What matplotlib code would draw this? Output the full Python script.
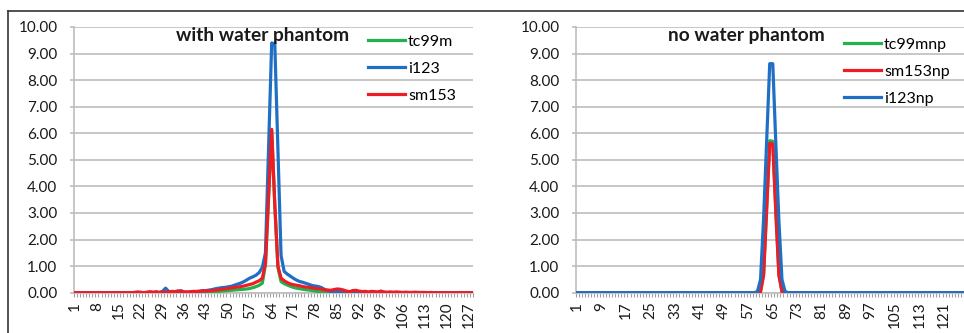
import matplotlib
matplotlib.use("Agg")
import matplotlib.pyplot as plt
from matplotlib.lines import Line2D

plt.rcParams['font.family'] = ['Lato', 'DejaVu Sans']

# categories 1..128 (detector bins)
bins = list(range(1, 129))

# with water phantom
tc99m = [
    0, 0, 0, 0, 0, 0, 0, 0, 0, 0, 0, 0, 0, 0, 0, 0,
    0, 0, 0, 0, 0, 0, 0, 0, 0, 0, 0, 0, 0, 0, 0, 0,
    0, 0.01, 0.01, 0, 0, 0.01, 0.01, 0.01, 0.01, 0.02, 0.02, 0.03, 0.03, 0.04, 0.05, 0.06,
    0.07, 0.08, 0.09, 0.10, 0.11, 0.12, 0.13, 0.14, 0.16, 0.19, 0.23, 0.28, 0.36, 1.05, 3.58, 6.10,
    3.28, 0.95, 0.42, 0.34, 0.29, 0.24, 0.20, 0.17, 0.15, 0.13, 0.11, 0.10, 0.08, 0.06, 0.04, 0.03,
    0.02, 0.01, 0.01, 0, 0, 0, 0, 0, 0, 0, 0, 0, 0, 0, 0, 0,
    0, 0, 0, 0, 0, 0, 0, 0, 0, 0, 0, 0, 0, 0, 0, 0,
    0, 0, 0, 0, 0, 0, 0, 0, 0, 0, 0, 0, 0, 0, 0, 0,
]
i123 = [
    0, 0, 0, 0, 0, 0, 0, 0, 0, 0, 0, 0, 0, 0, 0, 0,
    0, 0, 0, 0, 0, 0, 0, 0, 0, 0, 0, 0.01, 0.05, 0.17, 0.05, 0.02,
    0.04, 0.06, 0.07, 0.02, 0.01, 0.02, 0.03, 0.04, 0.05, 0.06, 0.08, 0.10, 0.12, 0.15, 0.17, 0.19,
    0.20, 0.22, 0.24, 0.28, 0.32, 0.36, 0.41, 0.48, 0.55, 0.60, 0.66, 0.76, 0.95, 1.50, 5.40, 9.40,
    9.35, 5.40, 1.40, 0.80, 0.70, 0.62, 0.54, 0.47, 0.42, 0.39, 0.35, 0.31, 0.27, 0.25, 0.23, 0.19,
    0.12, 0.07, 0.05, 0.04, 0.05, 0.03, 0.02, 0.01, 0, 0, 0, 0, 0, 0, 0, 0,
    0, 0, 0, 0, 0, 0, 0, 0, 0, 0, 0, 0, 0, 0, 0, 0,
    0, 0, 0, 0, 0, 0, 0, 0, 0, 0, 0, 0, 0, 0, 0, 0,
]
sm153 = [
    0, 0, 0, 0, 0, 0, 0, 0, 0, 0, 0, 0, 0, 0, 0, 0,
    0, 0, 0, 0.01, 0.03, 0.02, 0, 0.02, 0.04, 0.02, 0.04, 0.01, 0.02, 0.03, 0.02, 0.05,
    0.04, 0.06, 0.06, 0.03, 0.03, 0.04, 0.05, 0.05, 0.06, 0.08, 0.06, 0.07, 0.08, 0.10, 0.11, 0.13,
    0.14, 0.16, 0.18, 0.20, 0.21, 0.23, 0.25, 0.28, 0.31, 0.34, 0.40, 0.45, 0.55, 1.10, 3.60, 6.15,
    3.30, 1.00, 0.55, 0.45, 0.38, 0.33, 0.30, 0.28, 0.26, 0.23, 0.21, 0.20, 0.18, 0.16, 0.15, 0.13,
    0.11, 0.10, 0.09, 0.12, 0.14, 0.13, 0.10, 0.06, 0.04, 0.08, 0.09, 0.06, 0.04, 0.05, 0.03, 0.05,
    0.04, 0.03, 0.06, 0.03, 0.02, 0.03, 0.02, 0.03, 0.02, 0.01, 0.02, 0.01, 0.01, 0.02, 0.01, 0.01,
    0.01, 0, 0.01, 0, 0, 0, 0, 0, 0, 0, 0, 0, 0, 0, 0, 0,
]

# no water phantom
tc99mnp = [
    0, 0, 0, 0, 0, 0, 0, 0, 0, 0, 0, 0, 0, 0, 0, 0,
    0, 0, 0, 0, 0, 0, 0, 0, 0, 0, 0, 0, 0, 0, 0, 0,
    0, 0, 0, 0, 0, 0, 0, 0, 0, 0, 0, 0, 0, 0, 0, 0,
    0, 0, 0, 0, 0, 0, 0, 0, 0, 0, 0, 0, 0.05, 0.70, 3.20, 5.72,
    5.70, 3.10, 0.70, 0.05, 0, 0, 0, 0, 0, 0, 0, 0, 0, 0, 0, 0,
    0, 0, 0, 0, 0, 0, 0, 0, 0, 0, 0, 0, 0, 0, 0, 0,
    0, 0, 0, 0, 0, 0, 0, 0, 0, 0, 0, 0, 0, 0, 0, 0,
    0, 0, 0, 0, 0, 0, 0, 0, 0, 0, 0, 0, 0, 0, 0, 0,
]
sm153np = [
    0, 0, 0, 0, 0, 0, 0, 0, 0, 0, 0, 0, 0, 0, 0, 0,
    0, 0, 0, 0, 0, 0, 0, 0, 0, 0, 0, 0, 0, 0, 0, 0,
    0, 0, 0, 0, 0, 0, 0, 0, 0, 0, 0, 0, 0, 0, 0, 0,
    0, 0, 0, 0, 0, 0, 0, 0, 0, 0, 0, 0, 0.04, 0.65, 3.10, 5.62,
    5.60, 3.00, 0.65, 0.04, 0, 0, 0, 0, 0, 0, 0, 0, 0, 0, 0, 0,
    0, 0, 0, 0, 0, 0, 0, 0, 0, 0, 0, 0, 0, 0, 0, 0,
    0, 0, 0, 0, 0, 0, 0, 0, 0, 0, 0, 0, 0, 0, 0, 0,
    0, 0, 0, 0, 0, 0, 0, 0, 0, 0, 0, 0, 0, 0, 0, 0,
]
i123np = [
    0, 0, 0, 0, 0, 0, 0, 0, 0, 0, 0, 0, 0, 0, 0, 0,
    0, 0, 0, 0, 0, 0, 0, 0, 0, 0, 0, 0, 0, 0, 0, 0,
    0, 0, 0, 0, 0, 0, 0, 0, 0, 0, 0, 0, 0, 0, 0, 0,
    0, 0, 0, 0, 0, 0, 0, 0, 0, 0, 0, 0.05, 0.50, 2.80, 5.70, 8.62,
    8.62, 5.60, 2.70, 0.50, 0.05, 0, 0, 0, 0, 0, 0, 0, 0, 0, 0, 0,
    0, 0, 0, 0, 0, 0, 0, 0, 0, 0, 0, 0, 0, 0, 0, 0,
    0, 0, 0, 0, 0, 0, 0, 0, 0, 0, 0, 0, 0, 0, 0, 0,
    0, 0, 0, 0, 0, 0, 0, 0, 0, 0, 0, 0, 0, 0, 0, 0,
]

GREEN = '#22b14c'
BLUE = '#1f6fc5'
RED = '#ee1c25'
GRID = '#bdbdbd'

W, H = 964, 333
fig = plt.figure(figsize=(W / 100, H / 100), dpi=100)


def px_axes(x0, y0, x1, y1):
    # pixel box (top-left origin) -> figure axes
    return fig.add_axes([x0 / W, 1 - y1 / H, (x1 - x0) / W, (y1 - y0) / H])


def style_axes(ax, step):
    ax.set_xlim(0.5, len(bins) + 0.5)
    ax.set_ylim(0, 10)
    ax.set_yticks(range(0, 11))
    ax.set_yticklabels([f"{v:.2f}" for v in range(0, 11)])
    ax.set_xticks(bins[::step])
    ax.set_xticklabels([str(b) for b in bins[::step]], rotation=90)
    ax.set_xticks([b + 0.5 for b in range(0, len(bins) + 1)], minor=True)
    ax.grid(axis='y', color=GRID, lw=1.2, zorder=0)
    ax.set_axisbelow(True)
    for s in ['top', 'right']:
        ax.spines[s].set_visible(False)
    for s in ['left', 'bottom']:
        ax.spines[s].set_color(GRID)
        ax.spines[s].set_linewidth(1.2)
    ax.tick_params(axis='y', length=3, color=GRID, width=1.2, pad=8.5,
                   labelsize=11, labelcolor='#1a1a1a')
    ax.tick_params(axis='x', which='major', length=0, pad=6.5,
                   labelsize=11, labelcolor='#1a1a1a')
    ax.tick_params(axis='x', which='minor', length=3, color='#a0a0a0', width=0.8)


# left chart
ax1 = px_axes(73.5, 27, 473, 292.7)
style_axes(ax1, 7)
ax1.plot(bins, tc99m, color=GREEN, lw=2.3, label='tc99m', zorder=3)
ax1.plot(bins, i123, color=BLUE, lw=2.3, label='i123', zorder=3)
ax1.plot(bins, sm153, color=RED, lw=2.3, label='sm153', zorder=3)
ax1.legend(loc='upper left', bbox_to_anchor=(368 / W, 1 - 34.5 / H),
           bbox_transform=fig.transFigure, frameon=False, fontsize=11.5,
           handlelength=2.3, handletextpad=0.2, labelspacing=0.8,
           borderpad=0, borderaxespad=0)
fig.text(262.5 / W, 1 - 35 / H, 'with water phantom', ha='center', va='center',
         fontsize=13.8, fontweight='bold', color='#1a1a1a')

# right chart
ax2 = px_axes(575.5, 27, 967, 292.7)
style_axes(ax2, 8)
ax2.plot(bins, tc99mnp, color=GREEN, lw=2.3, label='tc99mnp', zorder=3)
ax2.plot(bins, sm153np, color=RED, lw=2.3, label='sm153np', zorder=3)
ax2.plot(bins, i123np, color=BLUE, lw=2.3, label='i123np', zorder=3)
ax2.legend(loc='upper left', bbox_to_anchor=(844 / W, 1 - 37.5 / H),
           bbox_transform=fig.transFigure, frameon=False, fontsize=11.5,
           handlelength=2.3, handletextpad=0.2, labelspacing=0.8,
           borderpad=0, borderaxespad=0)
fig.text(746 / W, 1 - 35 / H, 'no water phantom', ha='center', va='center',
         fontsize=13.8, fontweight='bold', color='#1a1a1a')

# outer frame lines
fig.add_artist(Line2D([8 / W, 1], [1 - 11 / H, 1 - 11 / H], color='#333333', lw=1.2))
fig.add_artist(Line2D([8 / W, 8 / W], [1 - 11 / H, 0], color='#333333', lw=1.2))

fig.savefig('out.png', dpi=100)
